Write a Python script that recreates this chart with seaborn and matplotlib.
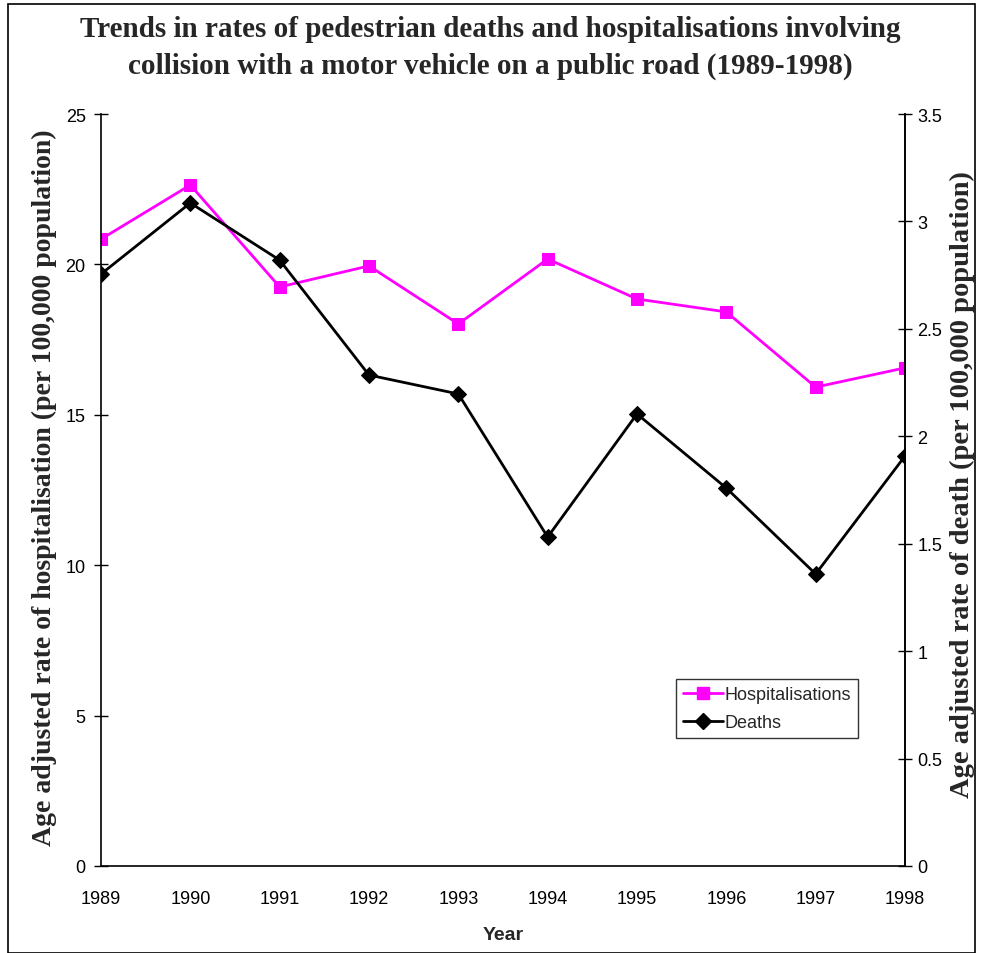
import matplotlib
matplotlib.use("Agg")
import matplotlib.pyplot as plt
import seaborn as sns
import pandas as pd
from matplotlib.lines import Line2D
from matplotlib.patches import Rectangle

years = [1989, 1990, 1991, 1992, 1993, 1994, 1995, 1996, 1997, 1998]
hospitalisations = [20.84, 22.64, 19.25, 19.95, 18.02, 20.18, 18.85, 18.42, 15.92, 16.56]
deaths = [2.755, 3.086, 2.820, 2.285, 2.197, 1.531, 2.104, 1.759, 1.359, 1.908]
left_ticks = [0, 5, 10, 15, 20, 25]
right_ticks = [0, 0.5, 1, 1.5, 2, 2.5, 3, 3.5]
right_labels = ["0", "0.5", "1", "1.5", "2", "2.5", "3", "3.5"]

df = pd.DataFrame({"Year": years, "Hosp": hospitalisations, "Deaths": deaths})

sns.set_style("white")
narrow = ["Liberation Sans Narrow", "Liberation Sans", "DejaVu Sans"]
serif = ["Liberation Serif", "DejaVu Serif"]
plt.rcParams["font.family"] = narrow

fig = plt.figure(figsize=(9.81, 9.54), dpi=100)
ax = fig.add_axes([101/981, 1-867/954, (905-101)/981, (867-115)/954])
ax2 = ax.twinx()

sns.lineplot(data=df, x="Year", y="Hosp", ax=ax, color="#FF00FF", marker="s",
             markersize=9, markeredgecolor="#FF00FF", linewidth=2)
sns.lineplot(data=df, x="Year", y="Deaths", ax=ax2, color="black", marker="D",
             markersize=8, markeredgecolor="black", linewidth=2)

ax.set_xlim(1989, 1998)
ax.set_ylim(0, 25)
ax2.set_ylim(0, 3.5)
ax.set_xticks(years)
ax.set_xticklabels([str(y) for y in years], fontsize=13, family=narrow)
ax.set_yticks(left_ticks)
ax.set_yticklabels([str(t) for t in left_ticks], fontsize=13, family=narrow)
ax2.set_yticks(right_ticks)
ax2.set_yticklabels(right_labels, fontsize=13, family=narrow)

for a in (ax, ax2):
    a.spines["top"].set_visible(False)
    for s in ("left", "right", "bottom"):
        a.spines[s].set_linewidth(1.2)
        a.spines[s].set_color("black")
    a.tick_params(direction="inout", length=10, width=1, colors="black", pad=6)
ax.tick_params(axis="x", pad=12)
ax2.tick_params(axis="y", pad=4)
ax2.spines["left"].set_visible(False)
ax2.spines["bottom"].set_visible(False)

ax.set_xlabel("")
ax.set_ylabel("")
ax2.set_ylabel("")
fig.text(503/981, 1-936/954, "Year", fontsize=14, fontweight="bold", family=narrow,
         ha="center", va="center")
fig.text(44/981, 1-488/954,
         "Age adjusted rate of hospitalisation (per 100,000 population)",
         fontsize=20, fontweight="bold", family=serif, rotation=90,
         ha="center", va="center")
fig.text(962/981, 1-485/954,
         "Age adjusted rate of death (per 100,000 population)",
         fontsize=20.5, fontweight="bold", family=serif, rotation=90,
         ha="center", va="center")

fig.text(0.5, 1-16/954,
         "Trends in rates of pedestrian deaths and hospitalisations involving\n"
         "collision with a motor vehicle on a public road (1989-1998)",
         fontsize=21, fontweight="bold", family=serif, ha="center", va="top",
         linespacing=1.45)

handles = [Line2D([0], [0], color="#FF00FF", marker="s", markersize=9, lw=2),
           Line2D([0], [0], color="black", marker="D", markersize=8, lw=2)]
leg = fig.legend(handles, ["Hospitalisations", "Deaths"], loc="upper left",
                 bbox_to_anchor=(676/981, 1-680/954), frameon=True, fancybox=False,
                 edgecolor="black", prop={"family": narrow, "size": 13},
                 handlelength=2.2, handletextpad=0.1, borderpad=0.4, labelspacing=0.6,
                 borderaxespad=0)
leg.get_frame().set_linewidth(1)

fig.patches.append(Rectangle((8/981, 0.0), 967/981, 1-5/954, transform=fig.transFigure,
                             fill=False, edgecolor="black", linewidth=1.2))

fig.savefig("out.png", dpi=100)
